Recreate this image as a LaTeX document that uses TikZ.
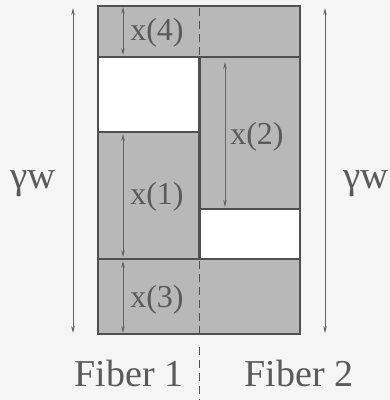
\documentclass[tikz,border=0pt]{standalone}
\usepackage{fontspec}
\setmainfont{Liberation Serif}
\usetikzlibrary{arrows.meta}
\definecolor{fillg}{RGB}{184,184,184}
\definecolor{lineg}{RGB}{80,80,80}
\definecolor{textg}{RGB}{90,90,90}
\definecolor{arrg}{RGB}{100,100,100}
\begin{document}
\begin{tikzpicture}[x=1pt,y=-1pt,
  region/.style={fill=fillg,draw=lineg,line width=2.8pt},
  hole/.style={fill=white,draw=lineg,line width=2.8pt},
  divider/.style={draw=lineg,line width=1.6pt,dash pattern=on 8pt off 5pt},
  dim/.style={draw=arrg,line width=0.8pt,{Stealth[length=7pt,width=3.5pt]}-{Stealth[length=7pt,width=3.5pt]}},
  lab/.style={text=textg,font=\fontsize{32}{36}\selectfont,inner sep=0pt},
  glab/.style={text=textg,font=\fontsize{39}{42}\selectfont,inner sep=0pt,anchor=base},
  fib/.style={text=textg,font=\fontsize{38}{42}\selectfont,inner sep=0pt}]
\useasboundingbox (0,0) rectangle (390,400);
\fill[white!96!black] (0,0) rectangle (390,400);
% regions
\draw[region] (98,6) rectangle (300,334);
\draw[hole] (98,57) rectangle (199.5,132);
\draw[hole] (199.5,209) rectangle (300,259);
\draw[lineg,line width=2.8pt] (98,57) -- (300,57);
\draw[lineg,line width=2.8pt] (98,259) -- (300,259);
\draw[lineg,line width=2.8pt] (199.5,57) -- (199.5,259);
% dashed divider
\draw[divider] (199.5,8) -- (199.5,56);
\draw[divider] (199.5,261) -- (199.5,333);
\draw[divider] (199.5,347) -- (199.5,400);
% coordinates
\coordinate (a4t) at (123,7); \coordinate (a4b) at (123,55);
\coordinate (a1t) at (123,134); \coordinate (a1b) at (123,257);
\coordinate (a3t) at (123,261); \coordinate (a3b) at (123,333);
\coordinate (a2t) at (225,62); \coordinate (a2b) at (225,207);
\coordinate (gLt) at (73,8); \coordinate (gLb) at (73,333);
\coordinate (gRt) at (325,8); \coordinate (gRb) at (325,333);
\draw[dim] (a4t) -- (a4b);
\draw[dim] (a1t) -- (a1b);
\draw[dim] (a3t) -- (a3b);
\draw[dim] (a2t) -- (a2b);
\draw[dim] (gLt) -- (gLb);
\draw[dim] (gRt) -- (gRb);
% labels
\node[lab] (x4) at (157,33) {x(4)};
\node[lab] (x2) at (257,137) {x(2)};
\node[lab] (x1) at (157,197) {x(1)};
\node[lab] (x3) at (157,300) {x(3)};
\node[glab] (gl) at (33,188) {γw};
\node[glab] (gr) at (366,188) {γw};
\node[fib] (f1) at (129,373) {Fiber 1};
\node[fib] (f2) at (299,373) {Fiber 2};
\end{tikzpicture}
\end{document}
